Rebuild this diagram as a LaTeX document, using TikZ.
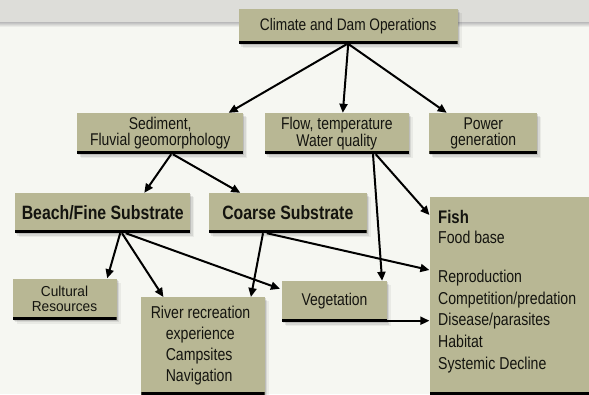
\documentclass[tikz,border=0pt]{standalone}
\usepackage{fontspec}
\setmainfont[FakeStretch=0.82]{Liberation Sans}
\newfontfamily\plainfont[FakeStretch=0.95]{Liberation Sans}
\usetikzlibrary{arrows.meta,shadows}
\definecolor{khaki}{RGB}{184,183,148}
\definecolor{band}{RGB}{221,221,217}
\definecolor{paper}{RGB}{246,247,242}
\definecolor{ink}{RGB}{20,20,15}

\begin{document}
\begin{tikzpicture}[x=1pt,y=-1pt,
  box/.style={fill=khaki, inner sep=0pt, align=center, text=ink,
    drop shadow={shadow xshift=1pt,shadow yshift=-1pt,fill=black,opacity=.12},
    drop shadow={shadow xshift=2.5pt,shadow yshift=-2.5pt,fill=black,opacity=.08},
    drop shadow={shadow xshift=4pt,shadow yshift=-4pt,fill=black,opacity=.05},
    path picture={\fill[black] ([yshift=3pt]path picture bounding box.south west) rectangle (path picture bounding box.south east);}},
  body/.style={font=\fontsize{17}{15.8}\selectfont},
  bold/.style={font=\bfseries\fontsize{19.3}{20}\selectfont},
  >={Triangle[length=9pt,width=8pt]}]
\useasboundingbox (0,0) rectangle (589,394);
\clip (0,0) rectangle (589,394);
\fill[paper] (0,0) rectangle (589,394);
\fill[band] (0,0) rectangle (589,23);
\shade[top color=black!25, bottom color=paper] (0,22.5) rectangle (589,27);

\node[box, minimum width=219pt, minimum height=35pt, font=\fontsize{16.7}{18}\selectfont] (clim) at (348.2,26.5) {Climate and Dam Operations};
\node[box, body, minimum width=166.4pt, minimum height=41pt] (sed) at (160.2,133.5) {Sediment,\\Fluvial geomorphology};
\node[box, body, minimum width=144pt, minimum height=41pt] (flow) at (336.8,133.5) {Flow, temperature\\Water quality};
\node[box, body, minimum width=108pt, minimum height=41pt] (power) at (483.3,133.5) {Power\\generation};
\node[box, bold, minimum width=175.5pt, minimum height=40pt] (beach) at (102.7,213) {Beach/Fine Substrate};
\node[box, bold, minimum width=157.7pt, minimum height=40pt] (coarse) at (287.8,213) {Coarse Substrate};
\node[box, minimum width=170.6pt, minimum height=197.5pt, anchor=north west] (fish) at (429.4,197) {};
\node[box, minimum width=104pt, minimum height=41pt, font=\plainfont\fontsize{14.4}{14.6}\selectfont] (cult) at (64.5,299) {Cultural\\Resources};
\node[box, minimum width=123.3pt, minimum height=97.5pt, anchor=north west] (river) at (141.2,297) {};
\node[box, body, minimum width=104.8pt, minimum height=41pt] (veg) at (334.5,301.5) {Vegetation};

\node[anchor=north west, align=left, inner sep=0pt, text=ink, font=\fontsize{17.2}{21.6}\selectfont] (fisht) at (438,210)
  {\textbf{\fontsize{18.2}{20}\selectfont Fish}\\[-1.6pt] Food base\\[17.8pt] Reproduction\\ Competition/predation\\ Disease/parasites\\ Habitat\\ Systemic Decline};
\node[anchor=north west, align=left, inner sep=0pt, text=ink, font=\fontsize{17.2}{21}\selectfont] (rivert) at (150.6,305.5)
  {River recreation\\ \hspace*{15pt}experience\\ \hspace*{15pt}Campsites\\ \hspace*{15pt}Navigation};

\begin{scope}[line width=2pt]
\draw[->] ([xshift=-1.5pt]clim.south) -- ([xshift=-15pt]sed.north east);
\draw[->] (clim.south) -- ([xshift=6pt]flow.north);
\draw[->] ([xshift=0.5pt]clim.south) -- ([xshift=17.6pt]power.north west);
\draw[->] ([xshift=11pt]sed.south) -- ([xshift=41.6pt]beach.north);
\draw[->] ([xshift=12.6pt]sed.south) -- ([xshift=31.5pt]coarse.north west);
\draw[->] ([xshift=36.2pt]flow.south) -- ([xshift=-5pt]veg.north east);
\draw[->] ([xshift=38.9pt]flow.south) -- ([yshift=-18pt]fish.north west);
\draw[->] ([xshift=17.5pt]beach.south) -- ([xshift=-9.5pt]cult.north east);
\draw[->] ([xshift=19.3pt]beach.south) -- ([xshift=22.2pt]river.north west);
\draw[->] ([xshift=23pt]beach.south) -- ([xshift=-2pt,yshift=-8pt]veg.north west);
\draw[->] ([xshift=-24.8pt]coarse.south) -- ([xshift=-14pt]river.north east);
\draw[->] ([xshift=-21pt]coarse.south) -- ([yshift=-73pt]fish.north west);
\draw[->] ([yshift=1.5pt]veg.south west) -- ([yshift=1.5pt]veg.south west -| fish.west);
\end{scope}
\end{tikzpicture}
\end{document}
